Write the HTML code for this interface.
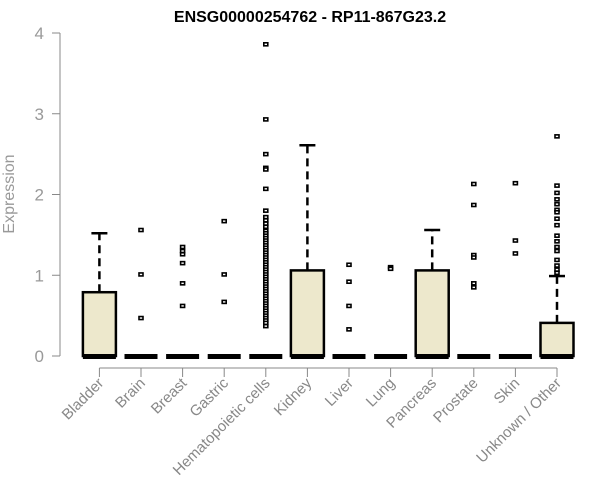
<!DOCTYPE html>
<html><head><meta charset="utf-8"><style>
body{margin:0;background:#fff;}
svg{display:block;font-family:"Liberation Sans",Arial,sans-serif;}
</style></head><body>
<svg id="chart" width="600" height="500" viewBox="0 0 600 500">
<text x="310" y="22" text-anchor="middle" font-size="16" font-weight="bold" fill="#000">ENSG00000254762 - RP11-867G23.2</text>
<text transform="translate(14,194) rotate(-90)" text-anchor="middle" font-size="16" fill="#999">Expression</text>
<g id="axes"></g>
<g id="plot"></g>
</svg>
<script>
const categories=["Bladder","Brain","Breast","Gastric","Hematopoietic cells","Kidney","Liver","Lung","Pancreas","Prostate","Skin","Unknown / Other"];
const q1=[0,0,0,0,0,0,0,0,0,0,0,0];
const medians=[0,0,0,0,0,0,0,0,0,0,0,0];
const q3=[0.79,0,0,0,0,1.06,0,0,1.06,0,0,0.41];
const whiskerHigh=[1.52,0,0,0,0,2.61,0,0,1.56,0,0,0.99];
const outliers=[
 [],
 [1.56,1.01,0.47],
 [1.35,1.30,1.26,1.15,0.9,0.62],
 [1.67,1.01,0.67],
 [3.86,2.93,2.50,2.33,2.31,2.07,1.80,1.72,1.68,1.64,1.60,1.55,1.52,1.49,1.46,1.43,1.40,1.37,1.34,1.31,1.28,1.25,1.22,1.19,1.16,1.13,1.10,1.07,1.04,1.01,0.98,0.95,0.92,0.89,0.86,0.83,0.80,0.77,0.74,0.71,0.68,0.65,0.62,0.59,0.56,0.53,0.50,0.47,0.44,0.41,0.37],
 [],
 [1.13,0.92,0.62,0.33],
 [1.10,1.08],
 [],
 [2.13,1.87,1.25,1.22,0.90,0.85],
 [2.14,1.43,1.27],
 [2.72,2.11,2.02,1.94,1.88,1.81,1.78,1.70,1.62,1.49,1.42,1.35,1.30,1.19,1.12,1.07,1.03]
];
const yTicks=[0,1,2,3,4];
const NS="http://www.w3.org/2000/svg";
const y=v=>356-v*80.75;
const x=i=>99.4+i*41.6;
const axes=document.getElementById('axes'),plot=document.getElementById('plot');
function mk(tag,attrs,parent){const e=document.createElementNS(NS,tag);for(const k in attrs)e.setAttribute(k,attrs[k]);parent.appendChild(e);return e;}
let e=mk('line',{x1:60,x2:60,y1:y(4),y2:y(0),stroke:'#888'},axes);


yTicks.forEach(t=>{
 let l=mk('line',{x1:52,x2:60,y1:y(t),y2:y(t),stroke:'#888'},axes);
 
 
 let tx=mk('text',{x:44,y:y(t)+6,'text-anchor':'end','font-size':17,fill:'#999'},axes);
 tx.textContent=t;
 
 
});
e=mk('line',{x1:x(0),x2:x(categories.length-1),y1:368,y2:368,stroke:'#888'},axes);


categories.forEach((c,i)=>{
 const cx=x(i);
 let l=mk('line',{x1:cx,x2:cx,y1:368,y2:377,stroke:'#888'},axes);
 
 
 let t=mk('text',{x:0,y:0,'text-anchor':'end','font-size':15,fill:'#888',transform:`translate(${cx+5},${384}) rotate(-45)`},axes);
 t.textContent=c;
 
 
 const g=mk('g',{},plot);
 
 
 const hw=16.5;
 if(whiskerHigh[i]>q3[i]){
  mk('line',{x1:cx,x2:cx,y1:y(q3[i]),y2:y(whiskerHigh[i]),stroke:'#000','stroke-width':2.5,'stroke-dasharray':'8,5'},g);
  mk('line',{x1:cx-8,x2:cx+8,y1:y(whiskerHigh[i]),y2:y(whiskerHigh[i]),stroke:'#000','stroke-width':2.5},g);
 }
 if(q3[i]>q1[i]) mk('rect',{x:cx-hw,y:y(q3[i]),width:2*hw,height:y(q1[i])-y(q3[i]),fill:'#ede8cc',stroke:'#000','stroke-width':2.5},g);
 mk('line',{x1:cx-hw,x2:cx+hw,y1:y(medians[i])+0.5,y2:y(medians[i])+0.5,stroke:'#000','stroke-width':5},g);
 outliers[i].forEach(v=>{
  let p=mk('rect',{x:cx-2,y:y(v)-1.5,width:4,height:3,fill:'#fff',stroke:'#000','stroke-width':1.6},g);
  
  
 });
});
</script>
</body></html>
